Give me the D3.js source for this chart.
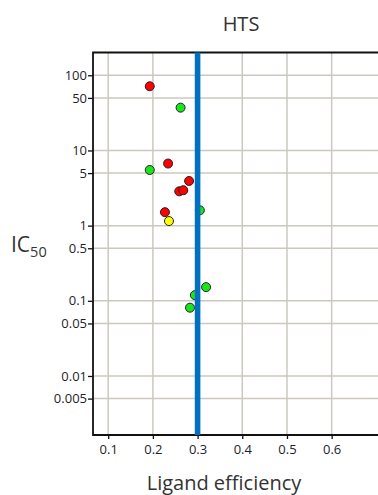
<!DOCTYPE html>
<html>
<head>
<meta charset="utf-8">
<script src="https://cdn.jsdelivr.net/npm/d3@7"></script>
<style>
  body { margin: 0; background: #fff; overflow: hidden; }
  svg { display: block; font-family: "Open Sans", "DejaVu Sans", sans-serif; }
</style>
</head>
<body>
<div id="vis"></div>
<script>
// data
const ligandEff = [0.193, 0.262, 0.193, 0.234, 0.281, 0.259, 0.268, 0.227, 0.236, 0.305, 0.319, 0.294, 0.283];
const ic50      = [71.4, 37.1, 5.5, 6.7, 3.93, 2.86, 2.96, 1.51, 1.15, 1.60, 0.152, 0.119, 0.081];
const pointCls  = ["red", "green", "green", "red", "red", "red", "red", "red", "yellow", "green", "green", "green", "green"];
const xTicks = [0.1, 0.2, 0.3, 0.4, 0.5, 0.6];
const yTicks = [100, 50, 10, 5, 1, 0.5, 0.1, 0.05, 0.01, 0.005];
const yTickLabels = ["100", "50", "10", "5", "1", "0.5", "0.1", "0.05", "0.01", "0.005"];
const cutoff = [0.3];

const width = 378;
const height = 495;
const colors = { red: "#ff0000", green: "#19e619", yellow: "#ffff00" };

const svg = d3.select("#vis").append("svg")
  .attr("width", width).attr("height", height);

const x = d3.scaleLinear().domain([0.066, 0.75]).range([93, 398.7]);
const y = d3.scaleLog().domain([201, 0.00164]).range([52.5, 435]);

const pLeft = 93, pTop = 52.5, pBottom = 435, pRight = 400;

// grid
const grid = svg.append("g").attr("stroke", "#ccc8c0").attr("stroke-width", 1.5);
grid.selectAll(".gx").data(xTicks).join("line")
  .attr("x1", d => x(d)).attr("x2", d => x(d))
  .attr("y1", pTop).attr("y2", pBottom);
grid.selectAll(".gy").data(yTicks).join("line")
  .attr("x1", pLeft).attr("x2", pRight)
  .attr("y1", d => y(d)).attr("y2", d => y(d));

// axes
const yAxis = svg.append("g").attr("transform", `translate(${pLeft},0)`)
  .call(d3.axisLeft(y).tickValues(yTicks).tickFormat((d, i) => yTickLabels[i]).tickSize(5).tickPadding(1));
const xAxis = svg.append("g").attr("transform", `translate(0,${pBottom})`)
  .call(d3.axisBottom(x).tickValues(xTicks).tickFormat(d3.format(".1f")).tickSize(4).tickPadding(6));
[xAxis, yAxis].forEach(a => {
  a.select(".domain").remove();
  a.selectAll("line").attr("stroke", "#111").attr("stroke-width", 1.3);
  a.selectAll("text").attr("fill", "#1e1e28").style("font-size", "13px")
    .style("font-family", "\"Open Sans\", sans-serif");
});

// frame (left, top, bottom)
svg.append("path")
  .attr("d", `M${pRight},${pTop}H${pLeft}V${pBottom}H${pRight}`)
  .attr("fill", "none").attr("stroke", "#111").attr("stroke-width", 1.8);

// points
svg.append("g").selectAll("circle").data(ligandEff).join("circle")
  .attr("cx", d => x(d))
  .attr("cy", (d, i) => y(ic50[i]))
  .attr("r", 4.5)
  .attr("fill", (d, i) => colors[pointCls[i]])
  .attr("stroke", "#222").attr("stroke-width", 1);

// LE cutoff line
svg.selectAll(".cut").data(cutoff).join("line")
  .attr("x1", d => x(d)).attr("x2", d => x(d))
  .attr("y1", pTop).attr("y2", pBottom)
  .attr("stroke", "#0070c0").attr("stroke-width", 5.6);

// titles
svg.append("text").text("HTS")
  .attr("x", 241).attr("y", 31).attr("text-anchor", "middle")
  .attr("fill", "#333").style("font-size", "20px");

svg.append("text").text("Ligand efficiency")
  .attr("x", 224).attr("y", 489.5).attr("text-anchor", "middle")
  .attr("fill", "#333").style("font-size", "20px");

const ic = svg.append("text").attr("x", 11).attr("y", 252)
  .attr("fill", "#333").style("font-size", "21px");
ic.append("tspan").text("IC");
ic.append("tspan").text("50").attr("dy", 5).style("font-size", "14.5px");
</script>
</body>
</html>
